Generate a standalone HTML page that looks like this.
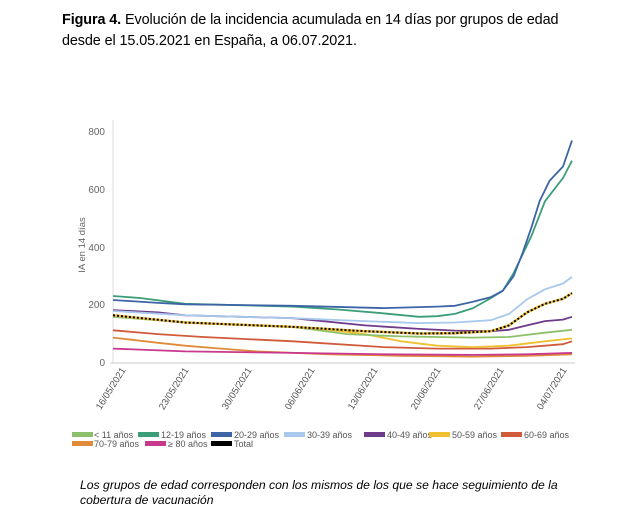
<!DOCTYPE html>
<html><head><meta charset="utf-8"><style>
body{margin:0;background:#fff;width:630px;height:530px;overflow:hidden;font-family:"Liberation Sans",sans-serif}
.t{position:absolute;left:62px;top:10px;font-size:14.4px;line-height:21px;color:#000;width:560px;letter-spacing:-0.1px}
.f{position:absolute;left:80px;top:478px;font-size:12.2px;line-height:15px;font-style:italic;color:#000;width:520px}
</style></head><body>
<div class="t"><b>Figura 4.</b> Evolución de la incidencia acumulada en 14 días por grupos de edad<br>desde el 15.05.2021 en España, a 06.07.2021.</div>
<svg width="630" height="530" style="position:absolute;left:0;top:0">
<g font-family="Liberation Sans, sans-serif" font-size="10" fill="#666">
<line x1="113" y1="120" x2="113" y2="363" stroke="#ddd"/>
<line x1="110" y1="363" x2="575" y2="363" stroke="#ccc"/>
<text x="105" y="366" text-anchor="end">0</text>
<text x="105" y="308" text-anchor="end">200</text>
<text x="105" y="251" text-anchor="end">400</text>
<text x="105" y="193" text-anchor="end">600</text>
<text x="105" y="135" text-anchor="end">800</text>
<text transform="translate(85,245) rotate(-90)" text-anchor="middle" font-size="9.5">IA en 14 días</text>
<g text-anchor="end" font-size="9.5" fill="#555">
<text transform="translate(126,370) rotate(-58)">16/05/2021</text>
<text transform="translate(189,370) rotate(-58)">23/05/2021</text>
<text transform="translate(252,370) rotate(-58)">30/05/2021</text>
<text transform="translate(315,370) rotate(-58)">06/06/2021</text>
<text transform="translate(378,370) rotate(-58)">13/06/2021</text>
<text transform="translate(441,370) rotate(-58)">20/06/2021</text>
<text transform="translate(504,370) rotate(-58)">27/06/2021</text>
<text transform="translate(567,370) rotate(-58)">04/07/2021</text>
</g>
</g>
<g fill="none" stroke-width="1.8" stroke-linejoin="round" id="lines"></g>
<g font-family="Liberation Sans, sans-serif" font-size="9" fill="#555">
<rect x="72" y="432" width="21" height="5" fill="#8cc06a"/><text x="94" y="438">&lt; 11 años</text>
<rect x="138" y="432" width="21" height="5" fill="#3a9e78"/><text x="161" y="438">12-19 años</text>
<rect x="211" y="432" width="21" height="5" fill="#3d65a5"/><text x="234" y="438">20-29 años</text>
<rect x="284" y="432" width="21" height="5" fill="#a8c8ec"/><text x="307" y="438">30-39 años</text>
<rect x="364" y="432" width="21" height="5" fill="#6e3a8a"/><text x="387" y="438">40-49 años</text>
<rect x="429" y="432" width="21" height="5" fill="#f0c030"/><text x="452" y="438">50-59 años</text>
<rect x="501" y="432" width="21" height="5" fill="#d05a3a"/><text x="524" y="438">60-69 años</text>
<rect x="72" y="441" width="21" height="5" fill="#e08a3a"/><text x="94" y="447">70-79 años</text>
<rect x="145" y="441" width="21" height="5" fill="#c8388c"/><text x="168" y="447">≥ 80 años</text>
<rect x="211" y="441" width="21" height="5" fill="#000"/><text x="234" y="447">Total</text>
</g>
</svg>
<div class="f">Los grupos de edad corresponden con los mismos de los que se hace seguimiento de la cobertura de vacunación</div>
<script>
var S=[
["#e08a3a",[[0,88],[5,70],[8,60],[12,50],[16,40],[24,30],[32,25],[40,22],[46,25],[51,30]]],
["#c8388c",[[0,50],[8,40],[20,35],[30,30],[40,28],[46,30],[51,35]]],
["#d05a3a",[[0,113],[5,100],[10,90],[20,75],[30,55],[36,50],[42,50],[46,55],[50,65],[51,75]]],
["#f0c030",[[0,165],[8,140],[20,125],[24,115],[28,100],[32,75],[36,60],[40,55],[44,60],[48,75],[51,85]]],
["#8cc06a",[[0,160],[8,140],[20,125],[26,100],[32,92],[40,88],[44,90],[48,105],[51,115]]],
["#6e3a8a",[[0,183],[5,175],[8,165],[20,155],[28,130],[34,118],[38,112],[42,110],[44,115],[46,130],[48,145],[50,150],[51,160]]],
["#a8c8ec",[[0,180],[8,165],[20,155],[28,145],[34,138],[38,140],[42,148],[44,170],[46,220],[48,255],[50,275],[51,298]]],
["#3a9e78",[[0,232],[3,225],[8,205],[20,195],[25,185],[30,172],[34,160],[36,162],[38,170],[40,190],[42,225],[43.3,250],[44.5,310],[46.5,440],[48,560],[50,640],[51,700]]],
["#3d65a5",[[0,218],[5,208],[8,203],[20,198],[30,190],[36,195],[38,198],[40,212],[42,228],[43.3,250],[44.5,300],[45.5,380],[46.5,470],[47.4,560],[48.5,630],[50,680],[51,770]]],
["#000",[[0,165],[8,140],[20,125],[28,110],[34,102],[38,103],[42,110],[44,130],[46,175],[48,205],[50,222],[51,242]],1]
];
var g=document.getElementById('lines'),h='';
S.forEach(function(s){var p=s[1].map(function(q){return (113+q[0]*9).toFixed(1)+','+(363-q[1]*0.289).toFixed(1)}).join(' ');
if(s[2]){h+='<polyline points="'+p+'" stroke="#f0c030" stroke-width="2.5"/><polyline points="'+p+'" stroke="#000" stroke-width="2" stroke-dasharray="2,2"/>';}
else h+='<polyline points="'+p+'" stroke="'+s[0]+'"/>';});
g.innerHTML=h;
</script>
</body></html>
